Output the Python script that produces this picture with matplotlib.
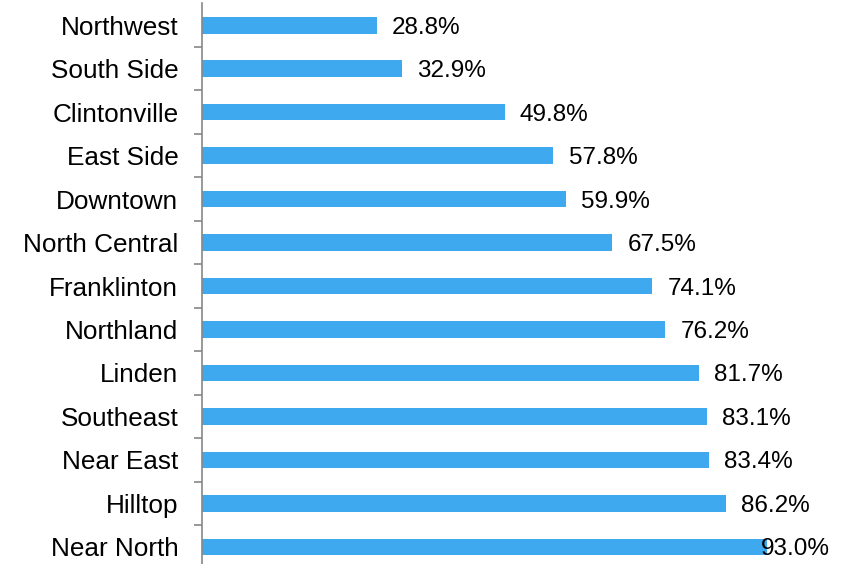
import matplotlib
matplotlib.use('Agg')
import matplotlib.pyplot as plt
import numpy as np

# data, top to bottom
areas = ['Northwest', 'South Side', 'Clintonville', 'East Side', 'Downtown',
         'North Central', 'Franklinton', 'Northland', 'Linden', 'Southeast',
         'Near East', 'Hilltop', 'Near North']
pct = [28.8, 32.9, 49.8, 57.8, 59.9, 67.5, 74.1, 76.2, 81.7, 83.1, 83.4, 86.2, 93.0]

plt.rcParams['font.family'] = ['Liberation Sans', 'DejaVu Sans']

fig = plt.figure(figsize=(8.5, 5.64), dpi=100)
ax = fig.add_axes([0.2376, -0.0084, 0.7388, 1.0026])

y = np.arange(len(areas))
ax.barh(y, pct, height=0.39, color='#3FA9F0')

xmax = 103.3
ax.set_xlim(0, xmax)
ax.set_ylim(len(areas) - 0.5, -0.5)

# value labels (last one pushed back inside the plot)
for yi, v in zip(y, pct):
    if v + 2.5 + 10.7 > xmax:
        ax.text(xmax, yi, f'{v:.1f}%', ha='right', va='center_baseline', fontsize=17.5)
    else:
        ax.text(v + 2.5, yi, f'{v:.1f}%', ha='left', va='center_baseline', fontsize=17.5)

ax.set_yticks(y)
ax.set_yticklabels(areas, fontsize=18.8)
ax.tick_params(axis='y', which='major', length=0, pad=17)
ax.set_yticks(y[:-1] + 0.5, minor=True)
ax.tick_params(axis='y', which='minor', length=6, width=1.2, color='#888888')
ax.set_xticks([])

for s in ['top', 'right', 'bottom']:
    ax.spines[s].set_visible(False)
ax.spines['left'].set_color('#888888')
ax.spines['left'].set_linewidth(1.2)

fig.savefig('out.png', dpi=100)
